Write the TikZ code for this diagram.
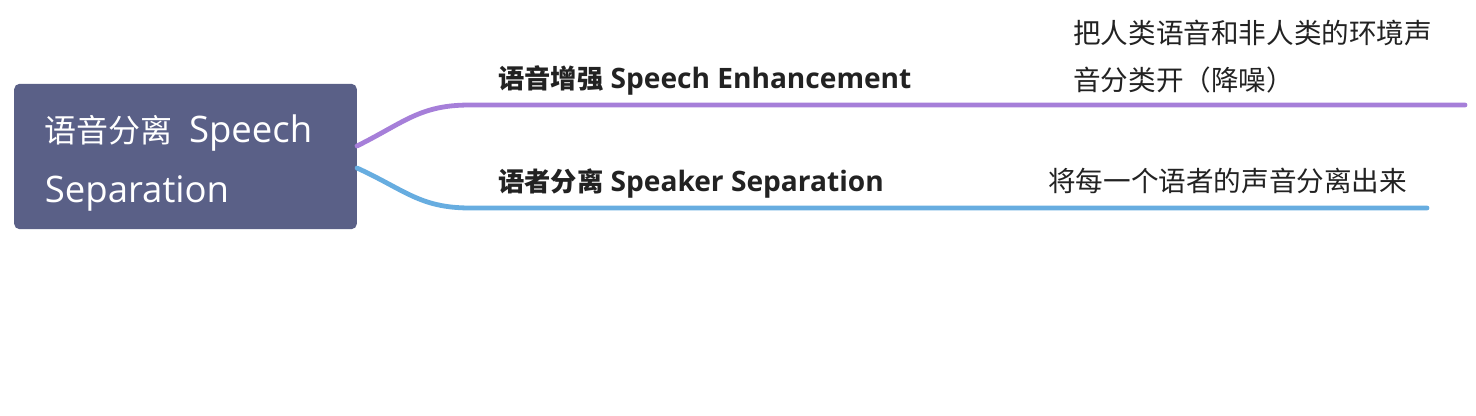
\documentclass[tikz,border=0pt]{standalone}
\usepackage{fontspec}
\setmainfont{Open Sans}[Scale=1.07]
\newfontfamily\cjk{Noto Sans CJK SC}
\usetikzlibrary{positioning}
\definecolor{rootfill}{HTML}{5A6087}
\definecolor{purpleline}{HTML}{A67FD9}
\definecolor{blueline}{HTML}{67ADE0}
\definecolor{labeltext}{HTML}{222222}
\newcommand{\rootcjk}[1]{{\fontsize{24pt}{45pt}\selectfont\cjk #1}}
\begin{document}
\begin{tikzpicture}
[x=0.75pt,y=-0.75pt,
  rootdecorate/.style={shape=rectangle,rounded corners=4pt,fill=rootfill,text=white,
    minimum width=257pt,minimum height=109pt,text width=211pt,align=left,
    font=\fontsize{25.6pt}{45pt}\selectfont},
  branchdecorate/.style={anchor=west,inner sep=0pt,text=labeltext,
    font=\fontsize{19.7pt}{24pt}\selectfont\bfseries},
  leafdecorate/.style={anchor=west,inner sep=0pt,text=labeltext,align=left,
    font=\fontsize{20.7pt}{35pt}\selectfont\cjk},
  linedecorate/.style={line width=3.6pt,line cap=round}]
\useasboundingbox (0,0) rectangle (1476,416);
% nodes
\node (root) at (185.5,156.5) [rootdecorate] {\rule{0pt}{30pt}\rootcjk{语音分离}\hspace{3pt} Speech\\Separation};
\node (enh) at (498,80.5) [branchdecorate] {{\cjk\bfseries 语音增强} Speech Enhancement};
\node (enhleaf) at (1073,56.5) [leafdecorate] {把人类语音和非人类的环境声\\音分类开（降噪）};
\node (spk) at (498,183.5) [branchdecorate] {{\cjk\bfseries 语者分离} Speaker Separation};
\node (spkleaf) at (1048,181) [leafdecorate] {将每一个语者的声音分离出来};
% line ends
\coordinate (enhstart) at (357,146);
\coordinate (enhbend) at (470,105);
\coordinate (enhend) at (1465,105);
\coordinate (spkstart) at (357,168);
\coordinate (spkbend) at (470,208);
\coordinate (spkend) at (1427,208);
% lines
\draw[linedecorate,purpleline] (enhstart) .. controls (405,122) and (420,105) .. (enhbend) -- (enhend);
\draw[linedecorate,blueline] (spkstart) .. controls (405,190) and (420,208) .. (spkbend) -- (spkend);
\end{tikzpicture}
\end{document}
